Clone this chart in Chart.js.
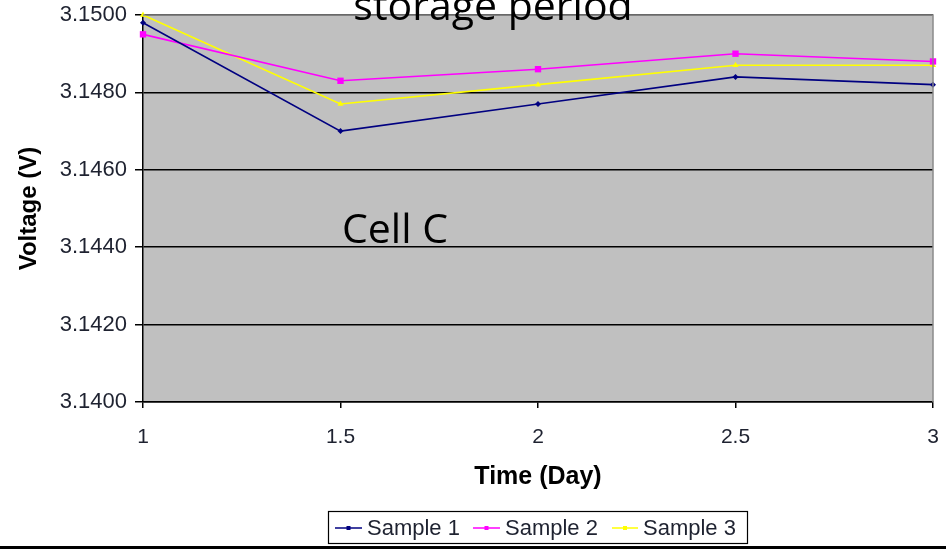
<!DOCTYPE html>
<html>
<head>
<meta charset="utf-8">
<script src="https://cdn.jsdelivr.net/npm/chart.js@4.4.1/dist/chart.umd.min.js"></script>
<style>
  html, body { margin: 0; padding: 0; background: #ffffff; }
  #wrap { width: 946px; height: 549px; position: relative; }
</style>
</head>
<body>
<div id="wrap"><canvas id="chart" width="946" height="549"></canvas></div>
<script>
// Storage-period voltage readings for cell C (three samples)
const days = [1, 1.5, 2, 2.5, 3];
const sample1 = [3.1498, 3.1470, 3.1477, 3.1484, 3.1482];
const sample2 = [3.1495, 3.1483, 3.1486, 3.1490, 3.1488];
const sample3 = [3.1500, 3.1477, 3.1482, 3.1487, 3.1487];
const seriesNames = ['Sample 1', 'Sample 2', 'Sample 3'];
const xTicks = [1, 1.5, 2, 2.5, 3];
const yTicks = [3.1400, 3.1420, 3.1440, 3.1460, 3.1480, 3.1500];

const colors = ['#000080', '#ff00ff', '#ffff00'];
const markers = ['rectRot', 'rect', 'triangle'];
const markerSizes = [3, 4.5, 3.5];
const FONT = '"Liberation Sans", Arial, sans-serif';

const toPoints = vals => days.map((d, i) => ({ x: d, y: vals[i] }));

// keep the plot edges fixed regardless of tick label overhang
const noOverhang = s => { s.paddingTop = 0; s.paddingBottom = 0; s.paddingLeft = 0; s.paddingRight = 0; };

// Gray plot background, plot frame, overlaid captions, legend box and base rule
const decorations = {
  id: 'decorations',
  beforeDraw(chart) {
    const { ctx, chartArea: a } = chart;
    ctx.save();
    ctx.fillStyle = '#c0c0c0';
    ctx.fillRect(a.left, a.top, a.right - a.left, a.bottom - a.top);
    ctx.restore();
  },
  afterDraw(chart) {
    const { ctx, chartArea: a } = chart;
    ctx.save();
    // top and right frame
    ctx.strokeStyle = '#8a8a8a';
    ctx.lineWidth = 1.5;
    ctx.beginPath();
    ctx.moveTo(a.left, a.top);
    ctx.lineTo(a.right, a.top);
    ctx.lineTo(a.right, a.bottom);
    ctx.stroke();

    // captions
    ctx.fillStyle = '#000000';
    ctx.font = '41px "Open Sans", "Noto Sans", sans-serif';
    ctx.textBaseline = 'alphabetic';
    ctx.textAlign = 'center';
    ctx.fillText('storage period', 493, 20);
    ctx.textAlign = 'left';
    ctx.fillText('Cell C', 342, 243);

    // legend
    const boxL = 328, boxT = 511, boxR = 748, boxB = 544;
    ctx.fillStyle = '#ffffff';
    ctx.fillRect(boxL, boxT, boxR - boxL, boxB - boxT);
    ctx.strokeStyle = '#000000';
    ctx.lineWidth = 1.2;
    ctx.strokeRect(boxL + 0.5, boxT + 0.5, boxR - boxL - 1, boxB - boxT - 1);
    const items = [
      { x0: 335, x1: 362, tx: 367 },
      { x0: 473, x1: 500, tx: 505 },
      { x0: 612, x1: 638, tx: 643 }
    ];
    const cy = 528;
    ctx.font = '22px ' + FONT;
    ctx.textBaseline = 'middle';
    items.forEach((it, i) => {
      ctx.strokeStyle = colors[i];
      ctx.lineWidth = 1.5;
      ctx.beginPath();
      ctx.moveTo(it.x0, cy);
      ctx.lineTo(it.x1, cy);
      ctx.stroke();
      const mx = (it.x0 + it.x1) / 2;
      ctx.fillStyle = colors[i];
      ctx.fillRect(mx - 2, cy - 2, 4, 4);
      ctx.fillStyle = '#1e2230';
      ctx.fillText(seriesNames[i], it.tx, cy + 1);
    });

    // base rule
    ctx.fillStyle = '#000000';
    ctx.fillRect(0, 546, 946, 3);
    ctx.restore();
  }
};

const datasets = [sample1, sample2, sample3].map((vals, i) => ({
  label: seriesNames[i],
  data: toPoints(vals),
  borderColor: colors[i],
  backgroundColor: colors[i],
  borderWidth: 1.6,
  pointStyle: markers[i],
  pointRadius: markerSizes[i],
  pointBorderWidth: 0,
  pointHoverRadius: markerSizes[i],
  tension: 0,
  clip: false
}));

new Chart(document.getElementById('chart'), {
  type: 'line',
  data: { datasets },
  options: {
    responsive: false,
    animation: false,
    layout: { padding: { top: 15, right: 13, left: 0, bottom: 0 } },
    plugins: {
      legend: { display: false },
      tooltip: { enabled: false }
    },
    scales: {
      x: {
        type: 'linear',
        min: 1,
        max: 3,
        afterBuildTicks: s => { s.ticks = xTicks.map(v => ({ value: v })); },
        afterFit: s => { s.height = 147; noOverhang(s); },
        grid: { drawOnChartArea: false, drawTicks: true, tickLength: 6, color: '#000000', lineWidth: 1.5 },
        border: { color: '#000000', width: 1.5 },
        ticks: {
          padding: 17,
          color: '#1e2230',
          font: { family: FONT, size: 21 },
          callback: v => String(v)
        },
        title: {
          display: true,
          text: 'Time (Day)',
          color: '#000000',
          font: { family: FONT, size: 25, weight: 'bold' },
          padding: { top: 0, bottom: 57 }
        }
      },
      y: {
        min: 3.14,
        max: 3.15,
        afterBuildTicks: s => { s.ticks = yTicks.map(v => ({ value: v })); },
        afterFit: s => { s.width = 143; noOverhang(s); },
        grid: { color: '#000000', lineWidth: 1.5, tickLength: 8 },
        border: { color: '#000000', width: 1.5 },
        ticks: {
          padding: 8,
          color: '#1e2230',
          font: { family: FONT, size: 22 },
          callback: v => Number(v).toFixed(4)
        },
        title: {
          display: true,
          text: 'Voltage (V)',
          color: '#000000',
          font: { family: FONT, size: 24, weight: 'bold' },
          padding: { top: 15, bottom: 0 }
        }
      }
    }
  },
  plugins: [decorations]
});
</script>
</body>
</html>
